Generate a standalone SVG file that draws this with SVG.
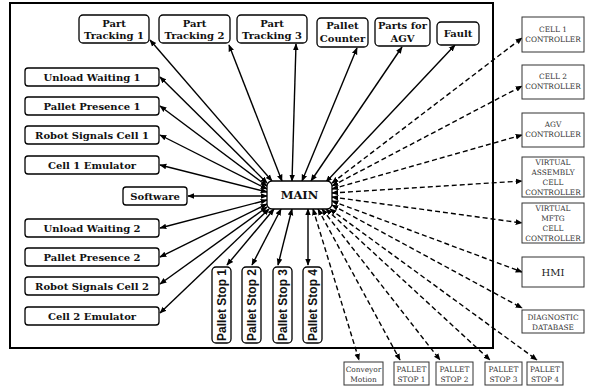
<svg xmlns="http://www.w3.org/2000/svg" width="589" height="390" viewBox="0 0 589 390">
<defs>
<marker id="ah" viewBox="0 0 10 10" refX="9" refY="5" markerWidth="5" markerHeight="5" orient="auto-start-reverse" markerUnits="strokeWidth">
<path d="M0,1 L10,5 L0,9 z" fill="#000"/>
</marker>
<style>
.frame{fill:none;stroke:#000;stroke-width:2}
.nb{fill:#fff;stroke:#000;stroke-width:1.3}
.ext{fill:#fff;stroke:#333;stroke-width:1}
.bl{font-family:"DejaVu Serif",serif;font-weight:bold;font-size:10px;fill:#111;text-anchor:middle}
.main{font-family:"DejaVu Serif",serif;font-weight:bold;font-size:11.5px;fill:#111;text-anchor:middle}
.ps{font-family:"Liberation Sans",Arial,sans-serif;font-weight:bold;font-size:12px;fill:#111;text-anchor:middle}
.ex{font-family:"DejaVu Serif",serif;font-size:7.4px;fill:#333;text-anchor:middle}
.hmi{font-family:"DejaVu Serif",serif;font-size:10px;fill:#222;text-anchor:middle}
.c{fill:none;stroke:#000;stroke-width:1.4;marker-start:url(#ah);marker-end:url(#ah)}
.d{stroke-dasharray:5,3}
</style>
</defs>
<rect class="frame" x="10" y="3" width="483" height="345"/>
<g id="connectors">
<line class="c" x1="272" y1="181" x2="150" y2="40"/>
<line class="c" x1="282" y1="181" x2="229" y2="45"/>
<line class="c" x1="292" y1="181" x2="296" y2="44"/>
<line class="c" x1="302" y1="181" x2="357" y2="48"/>
<line class="c" x1="311" y1="181" x2="402" y2="47"/>
<line class="c" x1="326" y1="182" x2="455" y2="45"/>
<line class="c" x1="267" y1="183" x2="160" y2="77"/>
<line class="c" x1="267" y1="186" x2="160" y2="106"/>
<line class="c" x1="267" y1="189" x2="160" y2="135"/>
<line class="c" x1="267" y1="192" x2="160" y2="165"/>
<line class="c" x1="267" y1="196" x2="188" y2="196"/>
<line class="c" x1="267" y1="200" x2="160" y2="228"/>
<line class="c" x1="267" y1="204" x2="160" y2="257"/>
<line class="c" x1="267" y1="207" x2="160" y2="284"/>
<line class="c" x1="269" y1="209" x2="160" y2="313"/>
<line class="c" x1="274" y1="209" x2="227" y2="265"/>
<line class="c" x1="281" y1="209" x2="252" y2="265"/>
<line class="c" x1="292" y1="209" x2="278" y2="265"/>
<line class="c" x1="308" y1="209" x2="308" y2="265"/>
<line class="c d" x1="332" y1="183" x2="522" y2="38"/>
<line class="c d" x1="332" y1="186" x2="522" y2="86"/>
<line class="c d" x1="332" y1="189" x2="522" y2="135"/>
<line class="c d" x1="332" y1="193" x2="522" y2="181"/>
<line class="c d" x1="332" y1="197" x2="522" y2="223"/>
<line class="c d" x1="332" y1="201" x2="522" y2="272"/>
<line class="c d" x1="332" y1="205" x2="522" y2="308"/>
<line class="c d" x1="330" y1="209" x2="537" y2="360"/>
<line class="c d" x1="326" y1="209" x2="490" y2="360"/>
<line class="c d" x1="322" y1="209" x2="440" y2="360"/>
<line class="c d" x1="318" y1="209" x2="400" y2="360"/>
<line class="c d" x1="313" y1="209" x2="359" y2="360"/>
</g>
<g id="main"><rect class="nb" x="267" y="181" width="65" height="28" rx="5"/><text class="main" x="299.5" y="199">MAIN</text></g>
<g id="pt1"><rect class="nb" x="79" y="15" width="70" height="28" rx="4"/><text class="bl" x="114" y="27">Part</text><text class="bl" x="114" y="39">Tracking 1</text></g>
<g id="pt2"><rect class="nb" x="159" y="15" width="71" height="28" rx="4"/><text class="bl" x="194.5" y="27">Part</text><text class="bl" x="194.5" y="39">Tracking 2</text></g>
<g id="pt3"><rect class="nb" x="237" y="15" width="70" height="28" rx="4"/><text class="bl" x="272" y="27">Part</text><text class="bl" x="272" y="39">Tracking 3</text></g>
<g id="pallet-counter"><rect class="nb" x="317" y="18" width="51" height="29" rx="4"/><text class="bl" x="342.5" y="29">Pallet</text><text class="bl" x="342.5" y="42">Counter</text></g>
<g id="parts-agv"><rect class="nb" x="375" y="18" width="55" height="28" rx="4"/><text class="bl" x="402.5" y="29">Parts for</text><text class="bl" x="402.5" y="42">AGV</text></g>
<g id="fault"><rect class="nb" x="437" y="22" width="42" height="23" rx="4"/><text class="bl" x="458" y="37">Fault</text></g>
<g id="uw1"><rect class="nb" x="25" y="68" width="134" height="18" rx="3"/><text class="bl" x="92" y="81">Unload Waiting 1</text></g>
<g id="pp1"><rect class="nb" x="25" y="97" width="134" height="18" rx="3"/><text class="bl" x="92" y="110">Pallet Presence 1</text></g>
<g id="rs1"><rect class="nb" x="25" y="126" width="134" height="18" rx="3"/><text class="bl" x="92" y="139">Robot Signals Cell 1</text></g>
<g id="ce1"><rect class="nb" x="25" y="156" width="134" height="18" rx="3"/><text class="bl" x="92" y="169">Cell 1 Emulator</text></g>
<g id="software"><rect class="nb" x="123" y="187" width="64" height="18" rx="3"/><text class="bl" x="155" y="200">Software</text></g>
<g id="uw2"><rect class="nb" x="25" y="219" width="134" height="18" rx="3"/><text class="bl" x="92" y="232">Unload Waiting 2</text></g>
<g id="pp2"><rect class="nb" x="25" y="248" width="134" height="18" rx="3"/><text class="bl" x="92" y="261">Pallet Presence 2</text></g>
<g id="rs2"><rect class="nb" x="25" y="277" width="134" height="18" rx="3"/><text class="bl" x="92" y="290">Robot Signals Cell 2</text></g>
<g id="ce2"><rect class="nb" x="25" y="307" width="134" height="18" rx="3"/><text class="bl" x="92" y="320">Cell 2 Emulator</text></g>
<g id="ps1"><rect class="nb" x="212" y="267" width="19" height="76" rx="4"/><text class="ps" transform="translate(226,305) rotate(-90)">Pallet Stop 1</text></g>
<g id="ps2"><rect class="nb" x="242" y="267" width="19" height="76" rx="4"/><text class="ps" transform="translate(256,305) rotate(-90)">Pallet Stop 2</text></g>
<g id="ps3"><rect class="nb" x="273" y="267" width="19" height="76" rx="4"/><text class="ps" transform="translate(287,305) rotate(-90)">Pallet Stop 3</text></g>
<g id="ps4"><rect class="nb" x="303" y="267" width="19" height="76" rx="4"/><text class="ps" transform="translate(317,305) rotate(-90)">Pallet Stop 4</text></g>
<g id="cell1"><rect class="ext" x="522" y="17" width="62" height="35"/><text class="ex" x="553" y="32">CELL 1</text><text class="ex" x="553" y="42">CONTROLLER</text></g>
<g id="cell2"><rect class="ext" x="522" y="65" width="62" height="34"/><text class="ex" x="553" y="79">CELL 2</text><text class="ex" x="553" y="89">CONTROLLER</text></g>
<g id="agv"><rect class="ext" x="522" y="113" width="62" height="34"/><text class="ex" x="553" y="127">AGV</text><text class="ex" x="553" y="137">CONTROLLER</text></g>
<g id="vac"><rect class="ext" x="522" y="157" width="62" height="40"/><text class="ex" x="553" y="165">VIRTUAL</text><text class="ex" x="553" y="175">ASSEMBLY</text><text class="ex" x="553" y="185">CELL</text><text class="ex" x="553" y="195">CONTROLLER</text></g>
<g id="vmc"><rect class="ext" x="522" y="203" width="62" height="40"/><text class="ex" x="553" y="211">VIRTUAL</text><text class="ex" x="553" y="221">MFTG</text><text class="ex" x="553" y="231">CELL</text><text class="ex" x="553" y="241">CONTROLLER</text></g>
<g id="hmi"><rect class="ext" x="522" y="257" width="62" height="30"/><text class="hmi" x="553" y="276">HMI</text></g>
<g id="diag"><rect class="ext" x="522" y="310" width="62" height="23"/><text class="ex" x="553" y="320">DIAGNOSTIC</text><text class="ex" x="553" y="330">DATABASE</text></g>
<g id="conveyor"><rect class="ext" x="344" y="362" width="39" height="23"/><text class="ex" x="363.5" y="372">Conveyor</text><text class="ex" x="363.5" y="382">Motion</text></g>
<g id="pst1"><rect class="ext" x="394" y="362" width="35" height="23"/><text class="ex" x="411.5" y="372">PALLET</text><text class="ex" x="411.5" y="382">STOP 1</text></g>
<g id="pst2"><rect class="ext" x="436" y="362" width="37" height="23"/><text class="ex" x="454.5" y="372">PALLET</text><text class="ex" x="454.5" y="382">STOP 2</text></g>
<g id="pst3"><rect class="ext" x="485" y="362" width="37" height="23"/><text class="ex" x="503.5" y="372">PALLET</text><text class="ex" x="503.5" y="382">STOP 3</text></g>
<g id="pst4"><rect class="ext" x="527" y="362" width="36" height="23"/><text class="ex" x="545" y="372">PALLET</text><text class="ex" x="545" y="382">STOP 4</text></g>
</svg>
